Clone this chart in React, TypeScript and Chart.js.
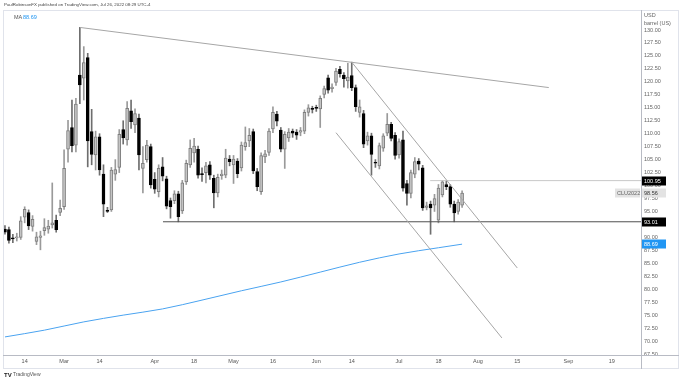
import React, { useEffect, useRef } from 'react';
import { Chart, registerables } from 'chart.js';

Chart.register(...registerables);

// ---- trading-day calendar (bar index -> date) ----
const monthNames = ['Feb', 'Mar', 'Apr', 'May', 'Jun', 'Jul', 'Aug', 'Sep'];
const febDays = [7, 8, 9, 10, 11, 14, 15, 16, 17, 18, 22, 23, 24, 25, 28];
const marDays = [1, 2, 3, 4, 7, 8, 9, 10, 11, 14, 15, 16, 17, 18, 21, 22, 23, 24, 25, 28, 29, 30, 31];
const aprDays = [1, 4, 5, 6, 7, 8, 11, 12, 13, 14, 18, 19, 20, 21, 22, 25, 26, 27, 28, 29];
const mayDays = [2, 3, 4, 5, 6, 9, 10, 11, 12, 13, 16, 17, 18, 19, 20, 23, 24, 25, 26, 27, 31];
const junDays = [1, 2, 3, 6, 7, 8, 9, 10, 13, 14, 15, 16, 17, 21, 22, 23, 24, 27, 28, 29, 30];
const julDays = [1, 5, 6, 7, 8, 11, 12, 13, 14, 15, 18, 19, 20, 21, 22, 25, 26, 27, 28, 29];
const augDays = [1, 2, 3, 4, 5, 8, 9, 10, 11, 12, 15, 16, 17, 18, 19, 22, 23, 24, 25, 26, 29, 30, 31];
const sepDays = [1, 2, 6, 7, 8, 9, 12, 13, 14, 15, 16, 19, 20, 21, 22, 23, 26, 27, 28];
const monthDays = [febDays, marDays, aprDays, mayDays, junDays, julDays, augDays, sepDays];
const dates: string[] = [];
monthDays.forEach((days, m) => days.forEach((d) => dates.push(`${monthNames[m]} ${d}`)));

// ---- x-axis tick labels ----
const tickDates = ['Feb 14', 'Mar 1', 'Mar 14', 'Apr 1', 'Apr 18', 'May 2', 'May 16', 'Jun 1', 'Jun 14', 'Jul 1', 'Jul 18', 'Aug 1', 'Aug 15', 'Sep 1', 'Sep 19'];
const tickTexts = ['14', 'Mar', '14', 'Apr', '18', 'May', '16', 'Jun', '14', 'Jul', '18', 'Aug', '15', 'Sep', '19'];

// ---- OHLC (daily crude oil) ----
const opens = [
  91.6, 91.5, 89.9, 89.9, 90.0, 93.9, 94.8, 92.1, 89.2, 90.0,
  91.3, 91.6, 92.4, 93.3, 94.8, 95.9, 107.0, 111.2, 107.8, 121.3,
  120.7, 124.7, 110.4, 105.9, 109.4, 102.2, 95.2, 95.3, 102.2, 103.5,
  110.8, 108.8, 114.4, 111.7, 113.0, 103.3, 105.0, 107.5, 101.2, 98.8,
  103.6, 101.3, 97.1, 97.1, 98.4, 95.1, 100.7, 104.0, 106.3, 107.0,
  102.3, 102.5, 104.0, 101.4, 98.6, 101.9, 102.0, 105.1, 104.0, 104.7,
  103.4, 107.5, 108.6, 110.4, 102.7, 98.8, 105.5, 106.4, 110.9, 113.8,
  110.7, 107.0, 109.2, 110.5, 110.3, 110.3, 110.5, 114.1, 114.9, 115.1,
  114.8, 117.6, 120.8, 118.7, 119.9, 122.4, 121.3, 120.2, 121.2, 118.9,
  114.1, 113.9, 108.6, 109.6, 104.5, 103.8, 107.2, 110.1, 111.8, 109.7,
  105.9, 108.8, 100.4, 98.5, 102.2, 104.7, 103.4, 95.8, 96.4, 96.2,
  93.3, 98.2, 100.2, 99.8, 96.4, 95.0, 96.2,
];
const highs = [
  92.3, 92.0, 90.6, 90.8, 94.0, 95.9, 95.3, 94.2, 91.0, 91.2,
  93.6, 93.3, 100.5, 94.3, 97.2, 106.9, 112.6, 116.5, 116.8, 130.5,
  126.8, 125.5, 114.7, 110.5, 110.0, 104.0, 95.8, 103.5, 105.0, 110.8,
  112.5, 116.2, 116.5, 114.8, 113.8, 107.5, 108.7, 108.0, 102.5, 104.0,
  105.4, 101.8, 97.6, 99.0, 98.9, 101.0, 104.9, 108.8, 109.1, 107.6,
  103.4, 104.5, 104.6, 102.0, 102.2, 103.0, 107.0, 105.8, 105.8, 105.2,
  108.4, 111.3, 111.0, 110.9, 103.3, 106.3, 106.8, 111.0, 115.2, 114.3,
  111.2, 110.4, 111.0, 110.9, 110.8, 111.2, 114.6, 115.6, 115.3, 115.5,
  117.3, 119.2, 121.3, 119.6, 122.6, 123.0, 121.8, 123.6, 123.8, 119.4,
  116.5, 114.5, 110.3, 110.1, 105.0, 108.2, 110.0, 113.9, 112.2, 110.2,
  109.0, 110.5, 101.0, 103.0, 105.4, 105.2, 103.9, 96.8, 97.0, 98.3,
  100.2, 101.0, 100.9, 100.2, 97.0, 97.3, 99.0,
];
const lows = [
  90.6, 88.9, 89.0, 89.3, 89.6, 92.8, 91.5, 91.2, 88.6, 87.6,
  90.4, 90.8, 91.8, 91.0, 94.2, 95.4, 104.5, 106.5, 106.5, 115.8,
  116.5, 103.6, 104.0, 103.0, 102.0, 94.0, 94.8, 95.0, 101.0, 102.5,
  108.0, 107.8, 111.0, 110.2, 103.0, 98.6, 104.5, 99.5, 98.5, 97.8,
  100.9, 95.5, 93.7, 96.5, 93.0, 94.6, 100.2, 103.5, 104.5, 101.4,
  100.8, 100.5, 101.2, 95.7, 97.8, 101.2, 101.5, 103.8, 100.4, 101.5,
  102.8, 106.8, 107.5, 102.3, 99.0, 98.3, 104.4, 105.8, 110.2, 111.5,
  106.5, 103.3, 108.5, 109.3, 108.9, 109.6, 110.0, 113.4, 114.0, 114.3,
  111.2, 116.9, 117.8, 118.0, 119.3, 120.9, 119.0, 118.8, 118.3, 114.3,
  113.2, 107.3, 107.8, 102.0, 103.5, 103.2, 106.6, 109.6, 108.6, 105.1,
  105.3, 98.9, 96.2, 97.6, 101.5, 103.0, 95.2, 95.3, 90.6, 95.0,
  92.8, 97.8, 99.2, 95.8, 93.0, 94.5, 95.8,
];
const closes = [
  91.0, 89.4, 89.7, 90.1, 93.2, 95.4, 92.2, 93.5, 90.1, 90.3,
  91.9, 92.2, 92.8, 91.5, 95.6, 103.3, 110.6, 107.7, 115.7, 119.4,
  123.7, 108.6, 106.0, 109.4, 103.0, 96.4, 95.0, 103.0, 103.1, 109.9,
  109.2, 114.9, 112.3, 113.9, 105.9, 104.3, 107.8, 100.1, 99.3, 103.3,
  101.8, 96.0, 95.9, 98.4, 94.0, 100.5, 104.3, 107.2, 107.6, 102.0,
  102.1, 103.8, 102.0, 98.6, 101.6, 102.2, 105.3, 104.6, 105.1, 102.3,
  107.8, 108.3, 109.7, 102.8, 99.8, 105.8, 106.1, 110.5, 114.1, 112.4,
  107.0, 109.9, 110.3, 110.1, 109.7, 110.6, 114.1, 115.0, 114.7, 114.9,
  116.8, 118.7, 118.4, 119.0, 122.1, 121.6, 120.6, 120.9, 118.9, 115.2,
  115.2, 108.0, 109.6, 106.0, 104.3, 107.7, 109.6, 111.8, 109.1, 105.8,
  108.5, 99.5, 98.5, 102.5, 104.6, 104.1, 95.7, 96.1, 95.7, 97.5,
  99.5, 100.7, 99.8, 96.4, 94.7, 96.8, 98.56,
];

// ---- moving average (sampled) ----
const maIndex = [0, 10, 20, 30, 40, 50, 60, 70, 80, 90, 100, 110, 116];
const maValues = [70.8, 72.1, 73.7, 75.0, 76.2, 77.9, 79.7, 81.4, 83.3, 85.2, 86.8, 88.0, 88.69];

// ---- analyst drawings (bar index, price) ----
const X_MAX = 161.4;
const upperTrend = [{ x: 19, y: 130.5 }, { x: 138, y: 118.9 }];
const channelTop = [{ x: 88, y: 123.8 }, { x: 130, y: 84.1 }];
const channelBottom = [{ x: 84, y: 110.2 }, { x: 126.1, y: 70.6 }];
const supportLevel = 93.01;
const supportStart = 40.1;
const resistanceLevel = 100.95;
const resistanceStart = 107.9;
const lastClose = 98.56;
const maLast = 88.69;

const FONT = "'Liberation Sans', Arial, sans-serif";

const overlayPlugin = {
  id: 'overlay',
  afterDraw(chart: any) {
    const ctx = chart.ctx as CanvasRenderingContext2D;
    const ys = chart.scales.y;
    const ca = chart.chartArea;
    ctx.save();
    // frame
    ctx.strokeStyle = '#e0e3eb';
    ctx.lineWidth = 1;
    ctx.strokeRect(3.5, 10.5, 675, 358);
    // axis lines extended
    ctx.strokeStyle = '#b8bbc4';
    ctx.beginPath();
    ctx.moveTo(ca.left, Math.round(ca.bottom) + 0.5);
    ctx.lineTo(679, Math.round(ca.bottom) + 0.5);
    ctx.moveTo(Math.round(ca.right) + 0.5, 10);
    ctx.lineTo(Math.round(ca.right) + 0.5, 369);
    ctx.stroke();

    ctx.textBaseline = 'middle';
    ctx.textAlign = 'left';
    // header
    ctx.font = `4.4px ${FONT}`;
    ctx.fillStyle = '#444';
    ctx.fillText('PaulRobinsonFX published on TradingView.com, Jul 26, 2022 08:29 UTC-4', 4, 5);
    // MA legend
    ctx.font = `5.5px ${FONT}`;
    ctx.fillStyle = '#555';
    ctx.fillText('MA', 14, 17);
    ctx.fillStyle = '#2196f3';
    ctx.fillText(maLast.toFixed(2), 23, 17);
    // axis unit
    ctx.fillStyle = '#666';
    ctx.fillText('USD', 644, 15);
    ctx.fillText('barrel (US)', 644, 23);

    const tag = (value: number, text: string, bg: string, fg: string) => {
      const py = Math.round(ys.getPixelForValue(value));
      ctx.fillStyle = bg;
      ctx.fillRect(642, py - 4.5, 24, 9);
      ctx.fillStyle = fg;
      ctx.font = `5.5px ${FONT}`;
      ctx.fillText(text, 644, py + 0.5);
    };
    tag(resistanceLevel, resistanceLevel.toFixed(2), '#000', '#fff');
    tag(supportLevel, supportLevel.toFixed(2), '#000', '#fff');
    tag(maLast, maLast.toFixed(2), '#2196f3', '#fff');
    tag(lastClose, lastClose.toFixed(2), '#e3e3e3', '#333');
    // symbol label
    const py = Math.round(ys.getPixelForValue(lastClose));
    ctx.fillStyle = '#e3e3e3';
    ctx.fillRect(615, py - 4.5, 25, 9);
    ctx.fillStyle = '#666';
    ctx.fillText('CLU2022', 617, py + 0.5);

    // footer
    ctx.fillStyle = '#222';
    ctx.font = `bold 6px ${FONT}`;
    ctx.fillText('TV', 4, 375);
    ctx.font = `5px ${FONT}`;
    ctx.fillStyle = '#555';
    ctx.fillText('TradingView', 13, 375);
    ctx.restore();
  },
};

export default function App() {
  const ref = useRef<HTMLCanvasElement | null>(null);

  useEffect(() => {
    if (!ref.current) return;
    const n = closes.length;
    const idx = Array.from({ length: n }, (_, i) => i);
    const up = idx.map((i) => closes[i] >= opens[i]);
    const wickData = idx.map((i) => ({ x: i, y: [lows[i], highs[i]] }));
    const bodyData = idx.map((i) => ({ x: i, y: [opens[i], closes[i]] }));
    const tickIdx = tickDates.map((d) => dates.indexOf(d));

    const lineDs = (data: any[], color: string, order = 0) => ({
      type: 'line' as const,
      data,
      borderColor: color,
      borderWidth: 1,
      pointRadius: 0,
      fill: false,
      order,
    });

    const chart = new Chart(ref.current, {
      type: 'bar',
      data: {
        datasets: [
          {
            type: 'bar',
            data: wickData as any,
            backgroundColor: idx.map((i) => (up[i] ? '#9a9a9a' : '#6e6e6e')),
            borderWidth: 0,
            barThickness: 1,
            grouped: false,
            order: 3,
          } as any,
          {
            type: 'bar',
            data: bodyData as any,
            backgroundColor: idx.map((i) => (up[i] ? '#c4c4c4' : '#000000')),
            borderColor: idx.map((i) => (up[i] ? '#7d7d7d' : '#000000')),
            borderWidth: 1,
            borderSkipped: false,
            barThickness: 3,
            grouped: false,
            order: 2,
          } as any,
          {
            ...lineDs(maIndex.map((x, k) => ({ x, y: maValues[k] })), '#4aa3f0', 1),
            cubicInterpolationMode: 'monotone',
          } as any,
          lineDs(upperTrend, '#a6a6a6') as any,
          lineDs(channelTop, '#a6a6a6') as any,
          lineDs(channelBottom, '#a6a6a6') as any,
          lineDs([{ x: supportStart, y: supportLevel }, { x: X_MAX, y: supportLevel }], '#505050') as any,
          lineDs([{ x: resistanceStart, y: resistanceLevel }, { x: X_MAX, y: resistanceLevel }], '#c8c8c8') as any,
        ],
      },
      options: {
        animation: false,
        responsive: false,
        maintainAspectRatio: false,
        layout: { padding: { left: 3, top: 11, right: 0, bottom: 12 } },
        plugins: { legend: { display: false }, tooltip: { enabled: false } },
        scales: {
          x: {
            type: 'linear',
            offset: false,
            min: -0.5,
            max: X_MAX,
            grid: { display: false, drawTicks: false, offset: false },
            border: { display: false },
            afterBuildTicks: (scale: any) => {
              scale.ticks = tickIdx.map((v) => ({ value: v }));
            },
            afterFit: (scale: any) => {
              scale.height = 13;
            },
            ticks: {
              autoSkip: false,
              maxRotation: 0,
              padding: 3,
              color: '#555',
              font: { size: 5.5, family: FONT },
              callback: (v: any) => {
                const k = tickIdx.indexOf(Number(v));
                return k >= 0 ? tickTexts[k] : '';
              },
            },
          },
          y: {
            type: 'linear',
            position: 'right',
            min: 67.31,
            max: 133.67,
            grid: { display: false, drawTicks: false },
            border: { display: false },
            afterBuildTicks: (scale: any) => {
              scale.ticks = scale.ticks.filter(
                (t: any) => t.value <= 130.001 && Math.abs(t.value / 2.5 - Math.round(t.value / 2.5)) < 1e-6,
              );
            },
            afterFit: (scale: any) => {
              scale.width = 39;
            },
            ticks: {
              stepSize: 2.5,
              includeBounds: false,
              padding: 3,
              color: '#666',
              font: { size: 5.5, family: FONT },
              callback: (v: any) => Number(v).toFixed(2),
            },
          },
        },
      },
      plugins: [overlayPlugin],
    });
    return () => chart.destroy();
  }, []);

  return (
    <div style={{ position: 'absolute', left: 0, top: 0, width: 680, height: 380, background: '#fff' }}>
      <canvas ref={ref} width={680} height={380} style={{ display: 'block' }} />
    </div>
  );
}
